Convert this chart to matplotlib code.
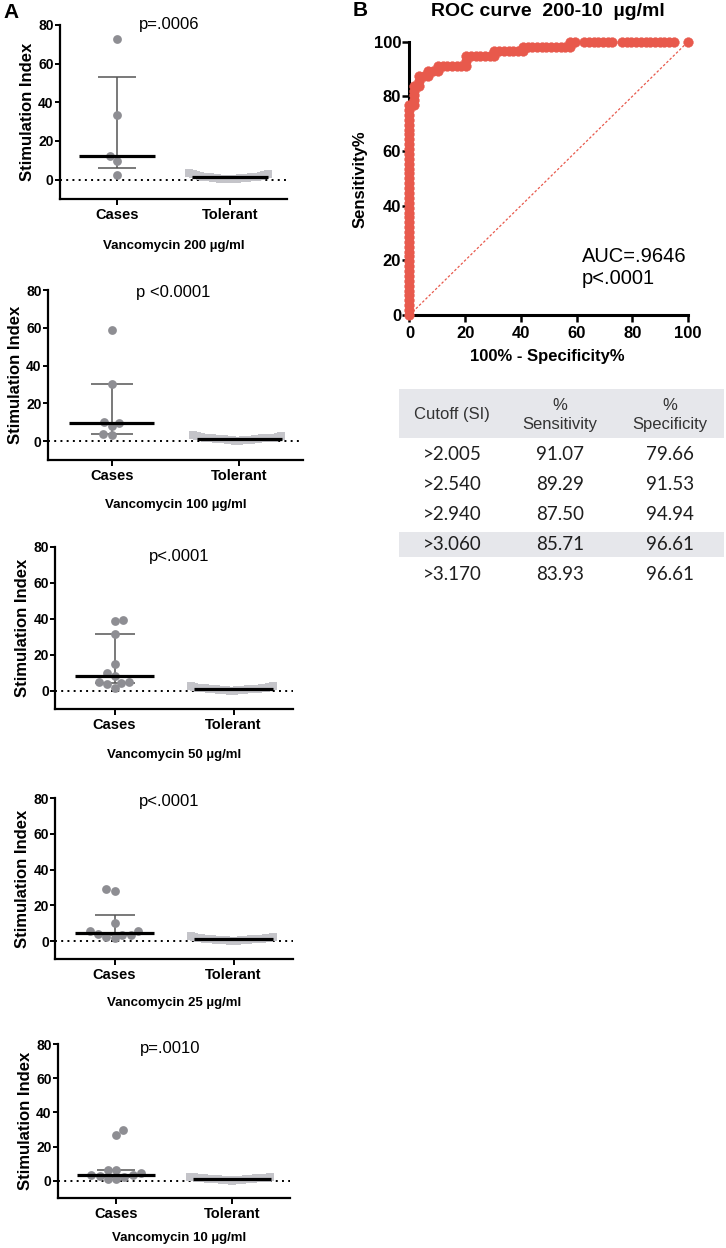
import numpy as np
import matplotlib
matplotlib.use('Agg')
import matplotlib.pyplot as plt
from matplotlib.patches import Rectangle

plt.rcParams['font.family'] = ['Liberation Sans', 'DejaVu Sans']

# ── データ ───────────────────────────────────────────────────────
conc_labels = ['Vancomycin 200 µg/ml', 'Vancomycin 100 µg/ml', 'Vancomycin 50 µg/ml',
               'Vancomycin 25 µg/ml', 'Vancomycin 10 µg/ml']
p_labels = ['p=.0006', 'p <0.0001', 'p<.0001', 'p<.0001', 'p=.0010']
groups = ['Cases', 'Tolerant']

cases_200 = [73.0, 33.5, 12.0, 9.5, 2.5]
cases_100 = [59.0, 30.5, 9.9, 9.7, 7.8, 3.9, 3.2]
cases_50 = [39.5, 38.8, 31.5, 15.2, 10.2, 8.5, 5.2, 4.8, 4.6, 3.7, 1.5]
cases_25 = [29.2, 28.0, 10.3, 5.8, 5.6, 3.9, 3.4, 3.4, 2.4, 1.5]
cases_10 = [30.0, 27.1, 6.5, 6.2, 4.9, 3.3, 3.3, 2.9, 2.0, 1.0, 1.0]

tol_200 = [3.7, 3.1, 2.8, 2.4, 2.3, 1.9, 1.8, 1.6, 1.5, 1.4, 1.3, 1.3, 1.2, 1.1,
           1.0, 0.9, 0.9, 0.7, 0.6, 0.5, 0.4, 0.3, 0.2, 0.1]
tol_100 = [3.3, 2.9, 2.6, 2.4, 2.1, 1.9, 1.8, 1.7, 1.6, 1.5, 1.5, 1.4, 1.3, 1.2,
           1.1, 1.0, 0.9, 0.8, 0.7, 0.6, 0.5, 0.4, 0.3, 0.2]
tol_50 = [3.0, 2.6, 2.3, 2.1, 1.9, 1.7, 1.6, 1.5, 1.4, 1.3, 1.2, 1.2, 1.1, 1.0,
          1.0, 0.9, 0.8, 0.7, 0.6, 0.5, 0.4, 0.3, 0.2, 0.1]
tol_25 = [2.8, 2.5, 2.2, 2.0, 1.8, 1.6, 1.5, 1.4, 1.3, 1.2, 1.1, 1.1, 1.0, 1.0,
          0.9, 0.8, 0.7, 0.6, 0.6, 0.5, 0.4, 0.3, 0.2, 0.1]
tol_10 = [2.5, 2.3, 2.1, 1.9, 1.8, 1.7, 1.6, 1.5, 1.4, 1.4, 1.3, 1.3, 1.2, 1.1,
          1.0, 1.0, 0.9, 0.8, 0.7, 0.6, 0.5, 0.4, 0.3, 0.2]

cases_all = [cases_200, cases_100, cases_50, cases_25, cases_10]
tol_all = [tol_200, tol_100, tol_50, tol_25, tol_10]

# ROC 曲線 (100% - Specificity%, Sensitivity%)
roc_fpr = [0, 0, 0, 0, 0, 0, 0, 0, 0, 0, 0, 0, 0, 0, 0, 0, 0, 0, 0, 0, 0, 0,
           0, 0, 0, 0, 0, 0, 0, 0, 0, 0, 0, 0, 0, 0, 0, 0, 0, 0, 0, 0, 0, 0,
           1.69, 1.69, 1.69, 1.69, 1.69,
           3.39, 3.39, 3.39,
           5.08, 6.78, 6.78, 8.47, 10.17, 10.17,
           11.86, 13.56, 15.25, 16.95, 18.64, 20.34, 20.34, 20.34,
           22.03, 23.73, 25.42, 27.12, 28.81, 30.51, 30.51,
           32.20, 33.90, 35.59, 37.29, 38.98, 40.68, 40.68,
           42.37, 44.07, 45.76, 47.46, 49.15, 50.85, 52.54, 54.24, 55.93, 57.63, 57.63,
           59.32, 62.71, 64.41, 66.10, 67.80, 69.49, 71.19, 72.88, 76.27, 77.97,
           79.66, 81.36, 83.05, 84.75, 86.44, 88.14, 89.83, 91.53, 93.22, 94.92, 100]
roc_sens = [0.00, 1.79, 3.57, 5.36, 7.14, 8.93, 10.71, 12.50, 14.29, 16.07, 17.86,
            19.64, 21.43, 23.21, 25.00, 26.79, 28.57, 30.36, 32.14, 33.93, 35.71, 37.50,
            39.29, 41.07, 42.86, 44.64, 46.43, 48.21, 50.00, 51.79, 53.57, 55.36, 57.14,
            58.93, 60.71, 62.50, 64.29, 66.07, 67.86, 69.64, 71.43, 73.21, 75.00, 76.79,
            76.79, 78.57, 80.36, 82.14, 83.93,
            83.93, 85.71, 87.50,
            87.50, 87.50, 89.29, 89.29, 89.29, 91.07,
            91.07, 91.07, 91.07, 91.07, 91.07, 91.07, 92.86, 94.64,
            94.64, 94.64, 94.64, 94.64, 94.64, 94.64, 96.43,
            96.43, 96.43, 96.43, 96.43, 96.43, 96.43, 98.21,
            98.21, 98.21, 98.21, 98.21, 98.21, 98.21, 98.21, 98.21, 98.21, 98.21, 100,
            100, 100, 100, 100, 100, 100, 100, 100, 100, 100,
            100, 100, 100, 100, 100, 100, 100, 100, 100, 100, 100]
auc_text = 'AUC=.9646'
roc_p_text = 'p<.0001'

# 表
tab_headers = ['Cutoff (SI)', '%\nSensitivity', '%\nSpecificity']
tab_cutoff = ['>2.005', '>2.540', '>2.940', '>3.060', '>3.170']
tab_sens = ['91.07', '89.29', '87.50', '85.71', '83.93']
tab_spec = ['79.66', '91.53', '94.94', '96.61', '96.61']

# ── レイアウト (ピクセル) ─────────────────────────────────────────────────
W, H = 726, 1248
fig = plt.figure(figsize=(W / 100, H / 100), dpi=100)

def px_axes(l, t, r, b):
    return fig.add_axes([l / W, 1 - b / H, (r - l) / W, (b - t) / H])

ov = fig.add_axes([0, 0, 1, 1])
ov.set_xlim(0, W)
ov.set_ylim(H, 0)
ov.axis('off')

A_BOX = [(60, 25, 287, 199), (48, 290, 303, 460), (55, 547, 293, 709),
         (55, 798, 293, 959), (58, 1044, 290, 1198)]
P_POS = [(0.46, 80), (0.48, 78.6), (0.54, 74.6), (0.46, 78.3), (0.47, 77.6)]
XL_POS = [(174, 246), (176, 505), (174, 755), (174, 1003), (179, 1238)]

CASE_C = '#8e8e93'
TOL_C = '#c4c4c9'
ERR_C = '#555555'
D_PX = 8.5  # マーカー径 (px)


def swarm(vals, sx, sy, d=D_PX):
    """GraphPad 風の蜂群配置 (px 空間で衝突回避) → x オフセット (データ単位)"""
    vals = np.asarray(vals, float)
    order = np.argsort(vals)
    placed = []
    offs = np.zeros(len(vals))
    side = -1
    for i in order:
        y = vals[i] * sy
        bad = []
        for xp, yp in placed:
            dy = abs(y - yp)
            if dy < d:
                h = np.sqrt(d * d - dy * dy)
                bad.append((xp - h, xp + h))
        cands = [0.0] + [e for b in bad for e in b]
        ok = [c for c in cands
              if all(not (lo + 1e-6 < c < hi - 1e-6) for lo, hi in bad)]
        best = min(abs(c) for c in ok)
        choice = [c for c in ok if abs(abs(c) - best) < 1e-6]
        pick = choice[0]
        for c in choice:
            if np.sign(c) == side:
                pick = c
        if pick != 0:
            side = -side
        placed.append((pick, y))
        offs[i] = pick / sx
    return offs


def v_spread(vals, half=0.36):
    """多数の点を V 字状に並べる (小さい値ほど中央)"""
    order = np.argsort(vals)
    n = len(vals)
    step = half / (n // 2)
    offs = np.zeros(n)
    for k, i in enumerate(order):
        m = (k + 1) // 2
        offs[i] = -m * step if k % 2 else m * step
    return offs


for k in range(5):
    l, t, r, b = A_BOX[k]
    ax = px_axes(l, t, r, b)
    sx = (r - l) / 2.0
    sy = (b - t) / 90.0
    ax.set_xlim(-0.5, 1.5)
    ax.set_ylim(-10, 80)
    ax.axhline(0, color='black', ls=(0, (1, 2.2)), lw=1.4, zorder=1)

    cv = np.array(cases_all[k])
    tv = np.array(tol_all[k])
    ax.scatter(0 + swarm(cv, sx, sy), cv, s=40, marker='o', color=CASE_C,
               linewidths=0, zorder=3)
    ax.scatter(1 + v_spread(tv), tv, s=40, marker='s', color=TOL_C,
               linewidths=0, zorder=3)

    for g, v in enumerate([cv, tv]):
        med = np.median(v)
        q1, q3 = np.percentile(v, [25, 75], method='weibull')
        ax.errorbar(g, med, yerr=[[med - q1], [q3 - med]], fmt='none',
                    ecolor=ERR_C, elinewidth=1.1, capthick=1.1,
                    capsize=0.165 * sx * 0.72, zorder=2)
        ax.plot([g - 0.335, g + 0.335], [med, med], color='black', lw=2.3,
                zorder=4, solid_capstyle='butt')

    ax.set_xticks([0, 1])
    ax.set_xticklabels(groups, fontweight='bold', fontsize=10.5)
    ax.set_yticks([0, 20, 40, 60, 80])
    for lab in ax.get_yticklabels():
        lab.set_fontweight('bold')
    ax.tick_params(axis='y', labelsize=10, width=1.4, length=3.5, pad=1)
    ax.tick_params(axis='x', width=1.4, length=4, pad=2.5)
    for s in ['top', 'right']:
        ax.spines[s].set_visible(False)
    for s in ['left', 'bottom']:
        ax.spines[s].set_linewidth(1.6)
    ax.set_ylabel('Stimulation Index', fontweight='bold', fontsize=12, labelpad=2)
    ax.text(P_POS[k][0], P_POS[k][1], p_labels[k], ha='center', va='center',
            fontsize=12)
    ov.text(XL_POS[k][0], XL_POS[k][1], conc_labels[k], ha='center', va='center',
            fontsize=9.5, fontweight='bold')

# ── ROC ────────────────────────────────────────────────────────────────
RED = '#e8594c'
roc = px_axes(409.5, 41.7, 688, 315)
roc.set_xlim(0, 100)
roc.set_ylim(0, 100)
roc.plot([0, 100], [0, 100], color=RED, ls=(0, (2, 1.6)), lw=0.9, zorder=2)
roc.plot(roc_fpr, roc_sens, 'o', ms=7, color=RED, mec=RED, mew=0.3,
         clip_on=False, zorder=4)
roc.set_xticks(range(0, 101, 20))
roc.set_yticks(range(0, 101, 20))
for lab in roc.get_xticklabels() + roc.get_yticklabels():
    lab.set_fontweight('bold')
roc.tick_params(axis='both', labelsize=12, width=1.8, length=5)
roc.tick_params(axis='y', pad=1)
roc.tick_params(axis='x', pad=3)
for s in ['top', 'right']:
    roc.spines[s].set_visible(False)
for s in ['left', 'bottom']:
    roc.spines[s].set_linewidth(2.2)
roc.text(0.62, 0.175, auc_text + '\n' + roc_p_text, transform=roc.transAxes,
         ha='left', va='center', fontsize=14.5, linespacing=1.2)

ov.text(548, 12, 'ROC curve  200-10  µg/ml', ha='center', va='center',
        fontsize=14, fontweight='bold')
ov.text(547, 357, '100% - Specificity%', ha='center', va='center',
        fontsize=12, fontweight='bold')
ov.text(360, 179, 'Sensitivity%', ha='center', va='center', rotation=90,
        fontsize=12, fontweight='bold')
ov.text(3, 12, 'A', ha='left', va='center', fontsize=15, fontweight='bold')
ov.text(353, 10, 'B', ha='left', va='center', fontsize=15, fontweight='bold')

# ── 表 ─────────────────────────────────────────────────────────────────
GRAY = '#e6e7eb'
COL_X = [452, 560, 670]
ROW_Y = [455, 485, 515, 544.5, 575]
ov.add_patch(Rectangle((399, 389), 325, 49, color=GRAY, lw=0, zorder=0))
ov.add_patch(Rectangle((399, 532), 325, 25, color=GRAY, lw=0, zorder=0))
for x, h in zip(COL_X, tab_headers):
    ov.text(x, 415, h, ha='center', va='center', fontsize=12, color='#333333',
            linespacing=1.25)
for y, c, s1, s2 in zip(ROW_Y, tab_cutoff, tab_sens, tab_spec):
    for x, txt in zip(COL_X, [c, s1, s2]):
        ov.text(x, y, txt, ha='center', va='center', fontsize=13.5,
                color='#1e1e1e', family=['Lato', 'DejaVu Sans'])

fig.savefig('out.png', dpi=100)
